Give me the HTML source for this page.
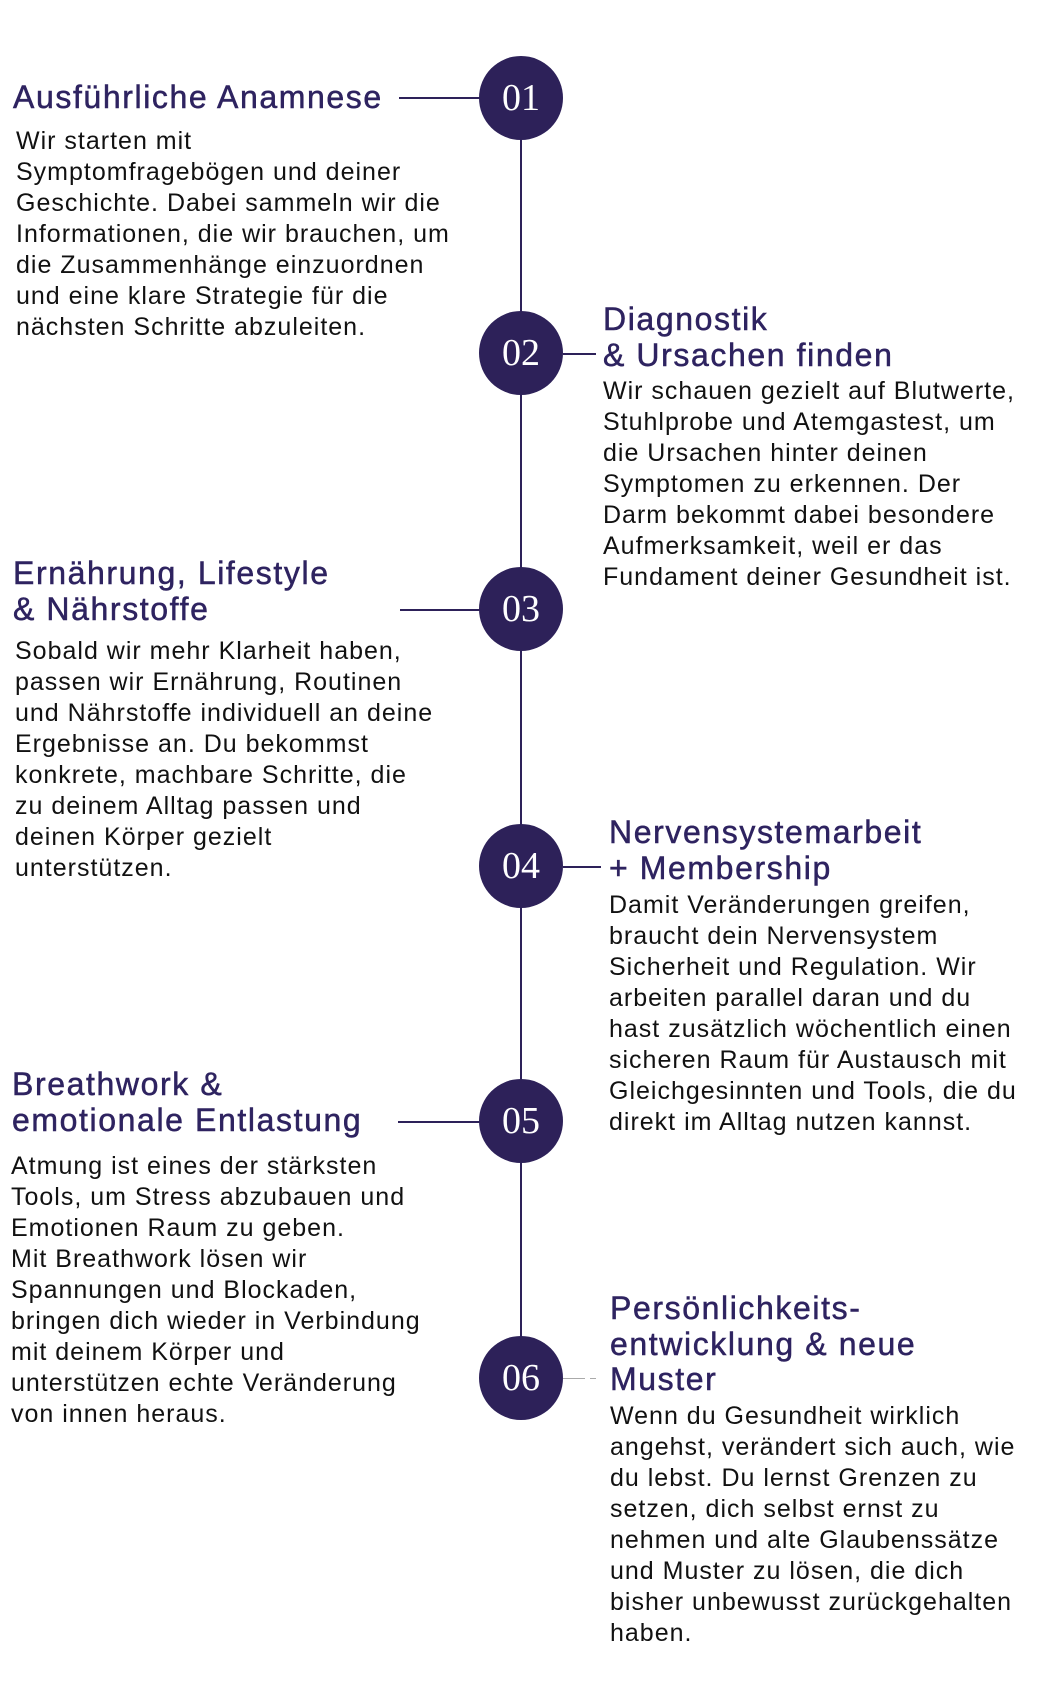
<!DOCTYPE html>
<html><head><meta charset="utf-8"><style>
body{margin:0;width:1040px;height:1700px;background:#fff;position:relative;overflow:hidden;font-family:"Liberation Sans",sans-serif}
.c{position:absolute;width:84px;height:84px;border-radius:50%;background:#2d2159;color:#fff;font-family:"Liberation Serif",serif;font-size:38px;line-height:84px;text-align:center;left:479px}
.ln{position:absolute;background:#2d2159}
.h{position:absolute;color:#2e2360;font-size:32px;letter-spacing:1.6px;line-height:35.5px;white-space:nowrap;-webkit-text-stroke:0.5px #2e2360}
.b{position:absolute;color:#111;font-size:25px;letter-spacing:1px;line-height:31px;white-space:nowrap}
</style></head><body>
<div class="ln" style="left:520px;top:98px;width:2px;height:1280px"></div>
<div class="ln" style="left:399px;top:97px;width:81px;height:1.5px"></div>
<div class="ln" style="left:563px;top:353px;width:33px;height:1.5px"></div>
<div class="ln" style="left:400px;top:609px;width:80px;height:1.5px"></div>
<div class="ln" style="left:563px;top:866px;width:38px;height:1.5px"></div>
<div class="ln" style="left:398px;top:1121px;width:82px;height:1.5px"></div>
<div class="ln" style="left:563px;top:1378px;width:22px;height:1px;background:#aaa"></div>
<div class="ln" style="left:590px;top:1378px;width:6px;height:1px;background:#aaa"></div>
<div class="c" style="top:56px">01</div>
<div class="c" style="top:311px">02</div>
<div class="c" style="top:567px">03</div>
<div class="c" style="top:824px">04</div>
<div class="c" style="top:1079px">05</div>
<div class="c" style="top:1336px">06</div>

<div class="h" style="left:13px;top:80px">Ausführliche Anamnese</div>
<div class="b" style="left:16px;top:126px">Wir starten mit<br>Symptomfragebögen und deiner<br>Geschichte. Dabei sammeln wir die<br>Informationen, die wir brauchen, um<br>die Zusammenhänge einzuordnen<br>und eine klare Strategie für die<br>nächsten Schritte abzuleiten.</div>

<div class="h" style="left:603px;top:302px">Diagnostik<br>&amp; Ursachen finden</div>
<div class="b" style="left:603px;top:376px">Wir schauen gezielt auf Blutwerte,<br>Stuhlprobe und Atemgastest, um<br>die Ursachen hinter deinen<br>Symptomen zu erkennen. Der<br>Darm bekommt dabei besondere<br>Aufmerksamkeit, weil er das<br>Fundament deiner Gesundheit ist.</div>

<div class="h" style="left:13px;top:556px">Ernährung, Lifestyle<br>&amp; Nährstoffe</div>
<div class="b" style="left:15px;top:636px">Sobald wir mehr Klarheit haben,<br>passen wir Ernährung, Routinen<br>und Nährstoffe individuell an deine<br>Ergebnisse an. Du bekommst<br>konkrete, machbare Schritte, die<br>zu deinem Alltag passen und<br>deinen Körper gezielt<br>unterstützen.</div>

<div class="h" style="left:609px;top:815px">Nervensystemarbeit<br>+ Membership</div>
<div class="b" style="left:609px;top:890px">Damit Veränderungen greifen,<br>braucht dein Nervensystem<br>Sicherheit und Regulation. Wir<br>arbeiten parallel daran und du<br>hast zusätzlich wöchentlich einen<br>sicheren Raum für Austausch mit<br>Gleichgesinnten und Tools, die du<br>direkt im Alltag nutzen kannst.</div>

<div class="h" style="left:12px;top:1067px">Breathwork &amp;<br>emotionale Entlastung</div>
<div class="b" style="left:11px;top:1151px">Atmung ist eines der stärksten<br>Tools, um Stress abzubauen und<br>Emotionen Raum zu geben.<br>Mit Breathwork lösen wir<br>Spannungen und Blockaden,<br>bringen dich wieder in Verbindung<br>mit deinem Körper und<br>unterstützen echte Veränderung<br>von innen heraus.</div>

<div class="h" style="left:610px;top:1291px">Persönlichkeits-<br>entwicklung &amp; neue<br>Muster</div>
<div class="b" style="left:610px;top:1401px">Wenn du Gesundheit wirklich<br>angehst, verändert sich auch, wie<br>du lebst. Du lernst Grenzen zu<br>setzen, dich selbst ernst zu<br>nehmen und alte Glaubenssätze<br>und Muster zu lösen, die dich<br>bisher unbewusst zurückgehalten<br>haben.</div>
</body></html>
